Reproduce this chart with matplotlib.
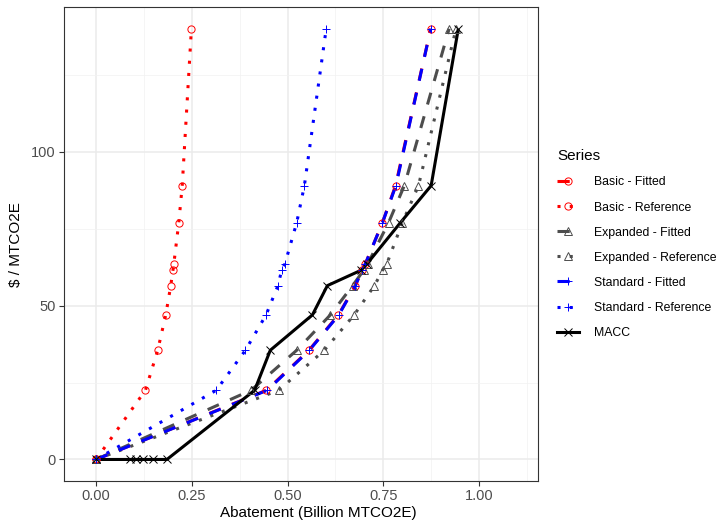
import matplotlib
matplotlib.use("Agg")
import matplotlib.pyplot as plt
from matplotlib.lines import Line2D

plt.rcParams['font.family'] = ['Liberation Sans', 'DejaVu Sans']

# price levels ($ / MTCO2E) shared by the model series
prices = [0, 22.5, 35.5, 47, 56.5, 61.7, 63.5, 77, 89, 140]

# abatement (Billion MTCO2E) per series
basic_fitted = [0, 0.445, 0.556, 0.633, 0.677, 0.695, 0.703, 0.748, 0.782, 0.874]
basic_ref = [0, 0.129, 0.161, 0.182, 0.195, 0.201, 0.203, 0.216, 0.225, 0.249]
expanded_fitted = [0, 0.405, 0.524, 0.612, 0.670, 0.700, 0.709, 0.764, 0.805, 0.922]
expanded_ref = [0, 0.477, 0.596, 0.674, 0.727, 0.749, 0.759, 0.800, 0.842, 0.940]
standard_fitted = [0, 0.447, 0.557, 0.634, 0.677, 0.695, 0.703, 0.748, 0.783, 0.874]
standard_ref = [0, 0.314, 0.390, 0.444, 0.475, 0.485, 0.493, 0.524, 0.544, 0.601]

macc_x = [0, 0.089, 0.104, 0.122, 0.148, 0.185, 0.414, 0.455, 0.565, 0.604, 0.692, 0.707, 0.795, 0.875, 0.946]
macc_y = [0, 0, 0, 0, 0, 0, 22.5, 35.5, 47, 56.5, 61.5, 63.5, 77, 89, 140]

RED = '#FF0000'
GREY = '#4D4D4D'
BLUE = '#0000FF'
DASH = (0, (4, 4))
DOT = (0, (1, 3))

# name, x, y, colour, linestyle, marker
series = [
    ("Basic - Fitted", basic_fitted, prices, RED, DASH, 'o'),
    ("Basic - Reference", basic_ref, prices, RED, DOT, 'o'),
    ("Expanded - Fitted", expanded_fitted, prices, GREY, DASH, '^'),
    ("Expanded - Reference", expanded_ref, prices, GREY, DOT, '^'),
    ("Standard - Fitted", standard_fitted, prices, BLUE, DASH, '+'),
    ("Standard - Reference", standard_ref, prices, BLUE, DOT, '+'),
    ("MACC", macc_x, macc_y, 'black', '-', 'x'),
]

fig = plt.figure(figsize=(7.26, 5.25), dpi=100)
ax = fig.add_axes([0.0875, 0.0838, 0.6535, 0.9025])

lw = 2.2
ms = 5.2
for name, x, y, c, ls, m in series:
    ax.plot(x, y, color=c, linestyle=ls, linewidth=lw, dash_capstyle='butt',
            solid_capstyle='butt', zorder=2)
for name, x, y, c, ls, m in series:
    ax.plot(x, y, linestyle='none', marker=m, markersize=ms,
            markerfacecolor='none', markeredgecolor=c, markeredgewidth=0.7, zorder=3)

ax.set_xlim(-0.085, 1.154)
ax.set_ylim(-7, 147)
ax.set_xticks([0, 0.25, 0.5, 0.75, 1.0])
ax.set_xticklabels(['0.00', '0.25', '0.50', '0.75', '1.00'])
ax.set_yticks([0, 50, 100])
ax.set_xticks([0.125, 0.375, 0.625, 0.875, 1.125], minor=True)
ax.set_yticks([25, 75, 125], minor=True)
ax.grid(which='major', color='#EBEBEB', linewidth=1.1, zorder=0)
ax.grid(which='minor', color='#F2F2F2', linewidth=0.55, zorder=0)
ax.set_axisbelow(True)
ax.tick_params(which='major', length=3.5, width=0.8, color='#333333',
               labelsize=10.5, labelcolor='#4D4D4D', pad=2)
ax.tick_params(which='minor', length=0)
for s in ax.spines.values():
    s.set_color('#333333')
    s.set_linewidth(0.8)

ax.set_xlabel("Abatement (Billion MTCO2E)", fontsize=11, labelpad=2)
ax.xaxis.set_label_coords(0.537, -0.052)
ax.set_ylabel("$ / MTCO2E", fontsize=11, labelpad=6)

handles = []
for name, x, y, c, ls, m in series:
    handles.append(Line2D([0], [0], color=c, linestyle=ls, linewidth=lw,
                          dash_capstyle='butt', marker=m, markersize=ms,
                          markerfacecolor='none', markeredgecolor=c, markeredgewidth=0.7))
leg = fig.legend(handles=handles, labels=[s[0] for s in series],
                 title="Series", loc='center left', bbox_to_anchor=(0.757, 0.535),
                 frameon=False, fontsize=8.8, title_fontsize=11, handlelength=1.8,
                 labelspacing=1.07, handletextpad=1.2, alignment='left',
                 borderaxespad=0.2)

fig.savefig("out.png", dpi=100)
